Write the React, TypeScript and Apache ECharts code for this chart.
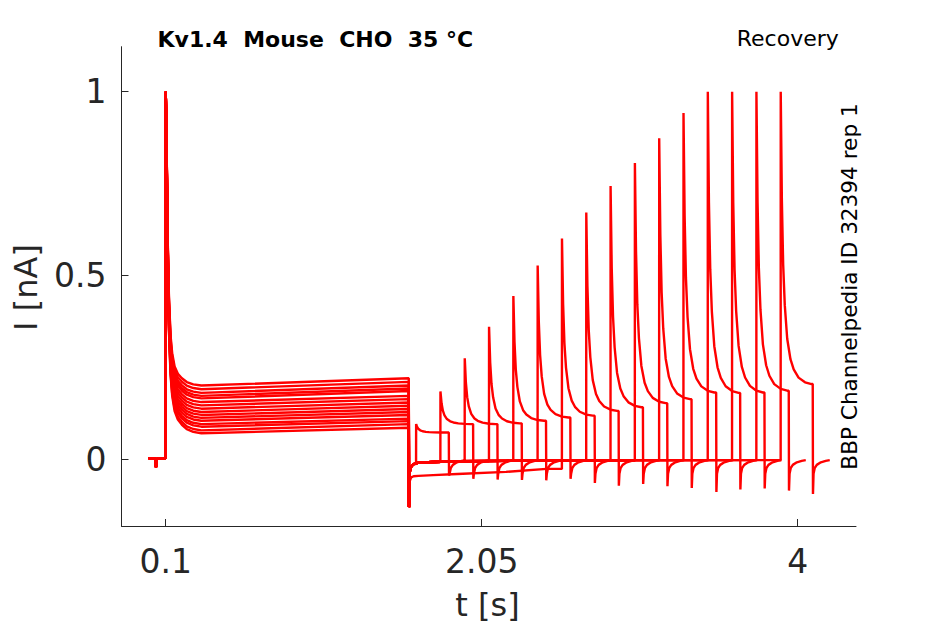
import React, { useEffect, useRef } from "react";
import * as echarts from "echarts";

// ---- axis ticks ----
const X_TICKS = [0.1, 2.05, 4];
const Y_TICKS = [0, 0.5, 1];

// ---- holding segment before the first step (shared by all sweeps) ----
const PRE_T = [-0.005, 0.035, 0.04, 0.046, 0.0995];
const PRE_V = [0.002, 0.002, -0.022, 0.001, 0.002];

// ---- first (conditioning) pulse ----
const FIRST_ON = 0.1;
const FIRST_OFF = 1.6;
const FIRST_PEAK = 1.0;
const FIRST_DECAY_DT = [0, 0.004, 0.008, 0.013, 0.02, 0.03, 0.04, 0.055, 0.075, 0.1, 0.13, 0.17, 0.22];
const FIRST_DECAY_FRAC = [1, 0.9, 0.7, 0.48, 0.3, 0.17, 0.11, 0.065, 0.04, 0.025, 0.012, 0.004, 0];
const FIRST_PLATEAU_START = [0.07, 0.078, 0.088, 0.095, 0.104, 0.112, 0.12, 0.128, 0.137, 0.146, 0.155, 0.165, 0.172, 0.18, 0.19, 0.2];
const FIRST_PLATEAU_END = [0.085, 0.095, 0.103, 0.11, 0.12, 0.128, 0.136, 0.145, 0.154, 0.163, 0.172, 0.185, 0.192, 0.2, 0.21, 0.22];
const OFF_SPIKE = -0.131;

// ---- recovery interval baseline ----
const BASE_T = [1.606, 1.615, 1.63, 1.66, 1.75, 1.9, 2.2, 2.45, 2.7, 3.0, 3.5, 3.9];
const BASE_V = [-0.035, -0.02, -0.014, -0.01, -0.008, -0.006, -0.005, -0.0045, -0.004, -0.003, -0.003, -0.002];
const LOW_BASE_V = [-0.06, -0.05, -0.047, -0.046, -0.044, -0.041, -0.035, -0.027, -0.015, -0.008, -0.004, -0.003];
const LOW_BASE_TRACE = 6;

// ---- second (test) pulse, one per sweep ----
const SECOND_ON = [1.645, 1.795, 1.945, 2.095, 2.245, 2.395, 2.545, 2.695, 2.845, 2.995, 3.145, 3.295, 3.445, 3.595, 3.745, 3.895];
const SECOND_OFF = [1.847, 1.997, 2.147, 2.297, 2.447, 2.597, 2.747, 2.895, 3.045, 3.195, 3.345, 3.497, 3.645, 3.795, 3.945, 4.093];
const SECOND_PEAK = [0.095, 0.184, 0.274, 0.36, 0.444, 0.527, 0.6, 0.671, 0.743, 0.806, 0.873, 0.942, 1.0, 1.0, 1.0, 1.0];
const SECOND_PLATEAU = [0.072, 0.095, 0.095, 0.097, 0.104, 0.113, 0.118, 0.131, 0.141, 0.152, 0.163, 0.181, 0.18, 0.181, 0.186, 0.204];
const SECOND_DECAY_DT = [0, 0.003, 0.007, 0.015, 0.025, 0.04, 0.06, 0.08, 0.11, 0.15, 0.19];
const SECOND_DECAY_FRAC = [1, 0.84, 0.63, 0.41, 0.27, 0.155, 0.085, 0.05, 0.022, 0.006, 0];

// ---- tail after the test pulse ----
const TAIL_SPIKE = [-0.045, -0.054, -0.056, -0.057, -0.058, -0.054, -0.065, -0.073, -0.068, -0.074, -0.079, -0.09, -0.083, -0.08, -0.086, -0.095];
const TAIL_DT = [0.005, 0.012, 0.025, 0.05, 0.08, 0.105];
const TAIL_V = [-0.04, -0.025, -0.016, -0.009, -0.005, -0.003];

function buildTrace(k: number): number[][] {
  const pts: number[][] = [];
  for (let i = 0; i < PRE_T.length; i++) pts.push([PRE_T[i], PRE_V[i]]);
  const a = FIRST_PLATEAU_START[k];
  const b = FIRST_PLATEAU_END[k];
  for (let i = 0; i < FIRST_DECAY_DT.length; i++) {
    pts.push([FIRST_ON + FIRST_DECAY_DT[i], a + (FIRST_PEAK - a) * FIRST_DECAY_FRAC[i]]);
  }
  pts.push([FIRST_OFF, b]);
  pts.push([FIRST_OFF + 0.0015, OFF_SPIKE]);
  const base = k === LOW_BASE_TRACE ? LOW_BASE_V : BASE_V;
  const on = SECOND_ON[k];
  const off = SECOND_OFF[k];
  let last = OFF_SPIKE;
  for (let i = 0; i < BASE_T.length; i++) {
    if (BASE_T[i] >= on) break;
    pts.push([BASE_T[i], base[i]]);
    last = base[i];
  }
  pts.push([on, last]);
  const p = SECOND_PEAK[k];
  const q = SECOND_PLATEAU[k];
  for (let i = 0; i < SECOND_DECAY_DT.length; i++) {
    const t = on + 0.0005 + SECOND_DECAY_DT[i];
    if (t >= off) break;
    pts.push([t, q + (p - q) * SECOND_DECAY_FRAC[i]]);
  }
  pts.push([off, q]);
  pts.push([off + 0.0015, TAIL_SPIKE[k]]);
  for (let i = 0; i < TAIL_DT.length; i++) pts.push([off + TAIL_DT[i], TAIL_V[i]]);
  return pts;
}

const FONT = "DejaVu Sans";
const AXIS_COLOR = "#262626";

export default function App() {
  const ref = useRef<HTMLDivElement>(null);
  useEffect(() => {
    if (!ref.current) return;
    const chart = echarts.init(ref.current, null, { renderer: "svg" });
    const series = SECOND_ON.map((_, k) => ({
      type: "line",
      data: buildTrace(k),
      showSymbol: false,
      symbol: "none",
      silent: true,
      lineStyle: { color: "#ff0000", width: 2.4 },
      itemStyle: { color: "#ff0000" },
      z: 2,
    }));
    const option: any = {
      animation: false,
      backgroundColor: "#ffffff",
      grid: { left: 121.5, top: 46.7, width: 734.5, height: 479.3, containLabel: false, outerBoundsMode: "none" },
      xAxis: {
        type: "value",
        min: -0.1728,
        max: 4.36,
        axisLine: { show: true, onZero: false, lineStyle: { color: AXIS_COLOR, width: 1 } },
        axisTick: { show: true, inside: true, length: 7, customValues: X_TICKS, lineStyle: { color: AXIS_COLOR, width: 1 } },
        axisLabel: {
          show: true,
          customValues: X_TICKS,
          margin: 18.5,
          fontSize: 33,
          fontFamily: FONT,
          color: AXIS_COLOR,
          formatter: (v: number) => String(v),
        },
        splitLine: { show: false },
      },
      yAxis: {
        type: "value",
        min: -0.1824,
        max: 1.1225,
        axisLine: { show: true, onZero: false, lineStyle: { color: AXIS_COLOR, width: 1 } },
        axisTick: { show: true, inside: true, length: 7, customValues: Y_TICKS, lineStyle: { color: AXIS_COLOR, width: 1 } },
        axisLabel: {
          show: true,
          customValues: Y_TICKS,
          margin: 15,
          fontSize: 33,
          fontFamily: FONT,
          color: AXIS_COLOR,
          padding: [3.5, 0, 0, 0],
          formatter: (v: number) => String(v),
        },
        splitLine: { show: false },
      },
      series,
      graphic: [
        {
          type: "text",
          x: 157.5,
          y: 39.7,
          style: { text: "Kv1.4  Mouse  CHO  35 °C", fontFamily: FONT, fontSize: 22, fontWeight: "bold", fill: "#000000", align: "left", verticalAlign: "middle" },
        },
        {
          type: "text",
          x: 838.8,
          y: 38.4,
          style: { text: "Recovery", fontFamily: FONT, fontSize: 22, fill: "#000000", align: "right", verticalAlign: "middle" },
        },
        {
          type: "text",
          x: 849.3,
          y: 286.5,
          rotation: Math.PI / 2,
          style: { text: "BBP Channelpedia ID 32394 rep 1", fontFamily: FONT, fontSize: 21.6, fill: "#000000", align: "center", verticalAlign: "middle" },
        },
        {
          type: "text",
          x: 26.2,
          y: 287.5,
          rotation: Math.PI / 2,
          style: { text: "I [nA]", fontFamily: FONT, fontSize: 32, fill: AXIS_COLOR, align: "center", verticalAlign: "middle" },
        },
        {
          type: "text",
          x: 487.5,
          y: 604.9,
          style: { text: "t [s]", fontFamily: FONT, fontSize: 32, fill: AXIS_COLOR, align: "center", verticalAlign: "middle" },
        },
      ],
    };
    chart.setOption(option);
    return () => chart.dispose();
  }, []);
  return <div ref={ref} style={{ position: "fixed", left: 0, top: 0, width: 945, height: 624, background: "#fff" }} />;
}
